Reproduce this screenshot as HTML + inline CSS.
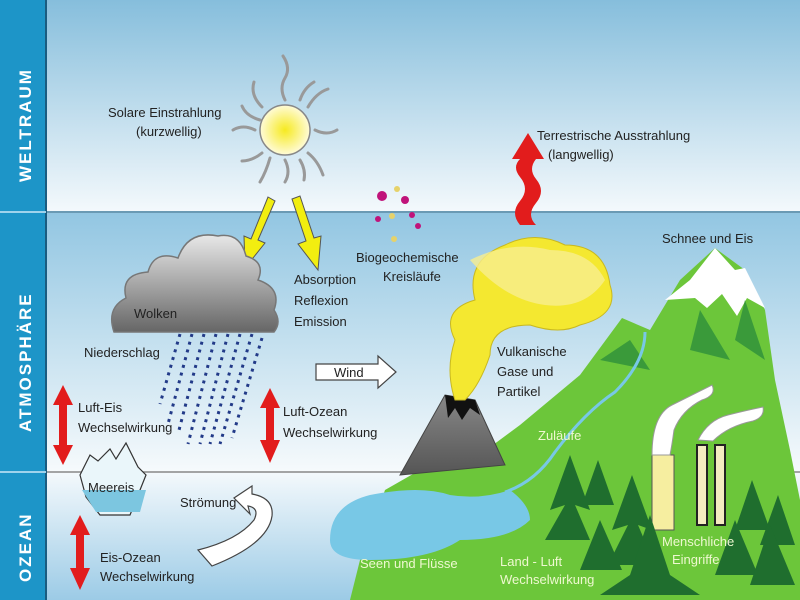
<!DOCTYPE html>
<html><head><meta charset="utf-8"><style>
html,body{margin:0;padding:0;width:800px;height:600px;overflow:hidden;background:#fff}
svg{display:block}
text{font-family:"Liberation Sans",sans-serif;font-size:13px;fill:#222}
.s{font-weight:bold;fill:#fff;font-size:17px;letter-spacing:2px}
.w{fill:#eef8d0}
</style></head><body>
<svg width="800" height="600" viewBox="0 0 800 600">
<defs>
<linearGradient id="sky" x1="0" y1="0" x2="0" y2="1"><stop offset="0" stop-color="#86bedc"/><stop offset="1" stop-color="#f4f9fc"/></linearGradient>
<linearGradient id="atm" x1="0" y1="0" x2="0" y2="1"><stop offset="0" stop-color="#92c6e2"/><stop offset="1" stop-color="#f6fafc"/></linearGradient>
<linearGradient id="oc" x1="0" y1="0" x2="0" y2="1"><stop offset="0" stop-color="#f4f9fc"/><stop offset="1" stop-color="#9ccbe6"/></linearGradient>
<linearGradient id="cl" x1="0" y1="0" x2="0" y2="1"><stop offset="0" stop-color="#e8e8e8"/><stop offset="1" stop-color="#666"/></linearGradient>
<radialGradient id="sun"><stop offset="0" stop-color="#f6ea20"/><stop offset="1" stop-color="#fffbd8"/></radialGradient>
<linearGradient id="vol" x1="0" y1="0" x2="0" y2="1"><stop offset="0" stop-color="#888"/><stop offset="1" stop-color="#555"/></linearGradient>
</defs>
<rect x="0" y="0" width="800" height="212" fill="url(#sky)"/>
<rect x="0" y="212" width="800" height="260" fill="url(#atm)"/>
<rect x="0" y="472" width="800" height="128" fill="url(#oc)"/>
<line x1="46" y1="212" x2="800" y2="212" stroke="#6a9ab4" stroke-width="2"/>
<line x1="46" y1="472" x2="800" y2="472" stroke="#888" stroke-width="1.5"/>
<!-- sidebar -->
<rect x="0" y="0" width="46" height="600" fill="#1d95c8"/>
<line x1="46" y1="0" x2="46" y2="600" stroke="#1a5c80" stroke-width="2"/>
<line x1="0" y1="212" x2="46" y2="212" stroke="#9fd3ec" stroke-width="2"/>
<line x1="0" y1="472" x2="46" y2="472" stroke="#9fd3ec" stroke-width="2"/>
<text class="s" transform="translate(31,182) rotate(-90)">WELTRAUM</text>
<text class="s" transform="translate(31,432) rotate(-90)">ATMOSPHÄRE</text>
<text class="s" transform="translate(31,582) rotate(-90)">OZEAN</text>
<!-- sun -->
<g stroke="#999" stroke-width="3" fill="none" stroke-linecap="round">
<path d="M285 100 q-6-12 0-22 t-2-22"/><path d="M285 160 q6 12 0 22"/>
<path d="M255 130 q-12-6-22 0"/><path d="M315 130 q12 6 22 0"/>
<path d="M262 107 q-12-12-8-25"/><path d="M308 107 q8-14 20-18"/>
<path d="M262 153 q-10 8-20 8"/><path d="M308 153 q10 8 15 22"/>
<path d="M270 158 q-4 14-10 24"/><path d="M300 160 q6 10 4 20"/>
<path d="M300 100 q4-12 14-18"/><path d="M260 120 q-14-4-18-14"/>
</g>
<circle cx="285" cy="130" r="25" fill="url(#sun)" stroke="#888" stroke-width="1.5"/>
<text x="108" y="117">Solare Einstrahlung</text><text x="136" y="136">(kurzwellig)</text>
<!-- yellow arrows -->
<polygon points="268,197 275,201 258,240 265,243 245,268 244,236 251,239" fill="#f2ee10" stroke="#555" stroke-width="1"/>
<polygon points="292,199 300,196 314,238 321,236 318,270 298,244 306,241" fill="#f2ee10" stroke="#555" stroke-width="1"/>
<text x="294" y="284">Absorption</text><text x="294" y="305">Reflexion</text><text x="294" y="326">Emission</text>
<!-- cloud -->
<path d="M114 332 q-8-24 12-34 q-6-24 22-26 q6-22 30-14 q10-28 40-22 q22-4 28 20 q20 6 12 24 q24 8 16 30 q8 12 0 22 z" fill="url(#cl)" stroke="#777" stroke-width="1.5"/>
<text x="134" y="318">Wolken</text>
<g stroke="#223a88" stroke-width="3" stroke-dasharray="3 5">
<path d="M180 334 l-20 70"/><path d="M192 334 l-24 90"/><path d="M204 334 l-26 100"/><path d="M216 334 l-28 110"/><path d="M228 334 l-28 110"/><path d="M240 334 l-30 110"/><path d="M252 334 l-32 110"/><path d="M262 338 l-30 100"/>
</g>
<text x="84" y="357">Niederschlag</text>
<!-- red arrows -->
<g fill="#e21c1c">
<polygon points="63,385 53,405 59,405 59,445 53,445 63,465 73,445 67,445 67,405 73,405"/>
<polygon points="270,388 260,408 266,408 266,440 260,440 270,463 280,440 274,440 274,408 280,408"/>
<polygon points="80,515 70,535 76,535 76,568 70,568 80,590 90,568 84,568 84,535 90,535"/>
</g>
<text x="78" y="412">Luft-Eis</text><text x="78" y="432">Wechselwirkung</text>
<text x="283" y="416">Luft-Ozean</text><text x="283" y="437">Wechselwirkung</text>
<text x="100" y="562">Eis-Ozean</text><text x="100" y="581">Wechselwirkung</text>
<!-- sea ice -->
<path d="M80 475 l10-20 l8 6 l12-12 l6 10 l10-16 l12 24 l8 8 l-8 20 l-8 20 h-30 l-14-18 z" fill="#eaf6fa" stroke="#333" stroke-width="1.2"/>
<path d="M82 490 h64 l-6 22 h-44 z" fill="#7cc6e0"/>
<text x="88" y="492">Meereis</text>
<!-- wind -->
<polygon points="316,364 378,364 378,356 396,372 378,388 378,380 316,380" fill="#fff" stroke="#444" stroke-width="1.2"/>
<text x="334" y="377">Wind</text>
<!-- strömung -->
<path d="M198 550 q40-10 56-30 q6-12-6-14 l2 8 l-16-16 l18-12 l0 8 q22 4 20 22 q-4 28-60 50 z" fill="#fff" stroke="#444" stroke-width="1.2"/>
<text x="180" y="507">Strömung</text>
<!-- terrestrial arrow -->
<path d="M520 225 q-10-12 0-24 q10-12 0-24 q-8-10 0-18 l-8 0 l16-26 l16 26 l-8 0 q-8 10 0 20 q10 12 0 24 q-10 12 0 22 z" fill="#e21c1c"/>
<text x="537" y="140">Terrestrische Ausstrahlung</text><text x="548" y="159">(langwellig)</text>
<!-- dots -->
<g><circle cx="382" cy="196" r="5" fill="#c0137a"/><circle cx="397" cy="189" r="3" fill="#e6d26a"/><circle cx="405" cy="200" r="4" fill="#c0137a"/><circle cx="378" cy="219" r="3" fill="#c0137a"/><circle cx="392" cy="216" r="3" fill="#e6d26a"/><circle cx="412" cy="215" r="3" fill="#c0137a"/><circle cx="394" cy="239" r="3" fill="#e6d26a"/><circle cx="418" cy="226" r="3" fill="#c0137a"/></g>
<text x="356" y="262">Biogeochemische</text><text x="383" y="281">Kreisläufe</text>
<!-- land -->
<path d="M350 600 L360 560 L385 490 L420 470 L470 462 L520 425 L580 375 L622 318 L650 330 L680 280 L715 248 L745 270 L765 310 L775 380 L790 450 L800 500 L800 600 Z" fill="#6cc63a"/>
<path d="M665 300 l25-20 l25-32 l20 22 l10 -2 l20 40 l-18-10 l-10 18 l-15-22 l-15 14 l-12-10 z" fill="#fff"/>
<path d="M600 360 l30-20 l20 30 z M700 310 l30 50 l-40-10 z M745 300 l20 60 l-30-20 z" fill="#3a9a3a"/>
<text x="662" y="243">Schnee und Eis</text>
<!-- lake -->
<path d="M330 540 q0-35 40-45 q50-10 80 0 q30 5 60-5 q20 15 20 30 q-20 20-70 20 q-30 20-90 20 q-40 0-40-20 z" fill="#78c8e6"/>
<path d="M505 492 q30-10 50-40 q30-40 60-60 q30-30 30-60" stroke="#78c8e6" stroke-width="3" fill="none"/>
<text class="w" x="360" y="568">Seen und Flüsse</text>
<text class="w" x="500" y="566">Land - Luft</text><text class="w" x="500" y="584">Wechselwirkung</text>
<text class="w" x="538" y="440">Zuläufe</text>
<!-- volcano -->
<polygon points="400,475 505,465 475,400 445,395" fill="url(#vol)" stroke="#444"/>
<polygon points="445,395 475,400 480,415 470,408 462,420 455,408 448,418" fill="#111"/>
<path d="M455 400 q-10-30 0-60 q-15-30 20-40 q-10-40 30-55 q30-15 60 0 q40 0 45 40 q10 30-30 40 q-20 10-50 0 q-40 0-40 30 q-10 30-25 45 z" fill="#f4e830" stroke="#c8b820"/>
<path d="M470 260 q40-20 80-10 q40 0 55 30 q-20 30-60 25 q-40-5-75-45z" fill="#f8ee90" opacity=".8"/>
<text x="497" y="356">Vulkanische</text><text x="497" y="376">Gase und</text><text x="497" y="396">Partikel</text>
<!-- power plant -->
<rect x="652" y="455" width="22" height="75" fill="#f6eea0" stroke="#555"/>
<rect x="697" y="445" width="10" height="80" fill="#f4ecc0" stroke="#222" stroke-width="2"/>
<rect x="715" y="445" width="10" height="80" fill="#f4ecc0" stroke="#222" stroke-width="2"/>
<path d="M652 455 q0-40 20-50 q20-10 40-20 q5 10-10 15 q-20 10-28 30 q-2 15-4 25z" fill="#fff" stroke="#999"/>
<path d="M698 440 q10-20 30-25 q20-5 35-8 q2 10-10 14 q-25 5-40 20z" fill="#fff" stroke="#999"/>
<!-- trees -->
<g fill="#1f6e2e">
<polygon points="570,455 550,510 565,505 545,540 590,540 575,505 590,510"/>
<polygon points="598,460 582,505 614,505"/>
<polygon points="632,475 612,530 628,525 608,565 655,565 638,525 652,530"/>
<polygon points="600,520 580,570 622,570"/>
<polygon points="650,515 630,575 600,595 700,595 670,575"/>
<polygon points="752,480 735,530 770,530"/>
<polygon points="778,495 760,545 795,545"/>
<polygon points="735,520 715,575 758,575"/>
<polygon points="770,525 750,585 795,585"/>
</g>
<text class="w" x="662" y="546">Menschliche</text><text class="w" x="672" y="564">Eingriffe</text>
</svg>
</body></html>
